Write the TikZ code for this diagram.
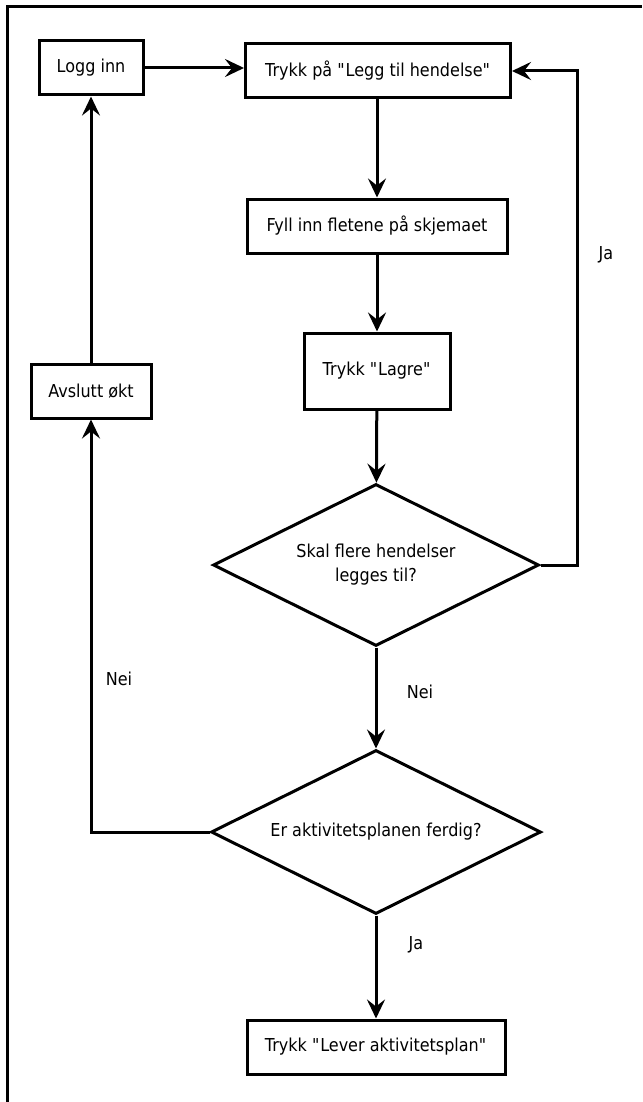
\documentclass[tikz,border=0pt]{standalone}
\usepackage{fontspec}
\setmainfont{DejaVu Sans}[FakeStretch=0.9]
\usetikzlibrary{shapes.geometric,arrows.meta,calc}

\begin{document}
\begin{tikzpicture}[x=1pt,y=-1pt,
  every node/.style={font=\fontsize{17.8}{24}\selectfont},
  procbox/.style={draw, line width=3pt, fill=white, rectangle, inner sep=0pt,
    minimum height=54pt, align=center},
  decision/.style={draw, line width=3pt, fill=white, diamond, inner sep=0pt,
    aspect=2, align=center},
  flow/.style={line width=3pt, -{Stealth[length=19pt,width=18pt,inset=7pt]}},
  lbl/.style={inner sep=0pt}
]
  % canvas and frame
  \fill[white] (0,0) rectangle (642,1102);
  \useasboundingbox (0,0) rectangle (642,1102);
  \draw[line width=3pt] (7,1102) -- (7,7) -- (642,7);

  % process steps
  \node[procbox, minimum width=104pt] (login) at (91,68) {Logg inn};
  \node[procbox, minimum width=265pt] (addevt) at (378,71)
    {Trykk på \textquotedbl Legg til hendelse\textquotedbl};
  \node[procbox, minimum width=260pt] (fill) at (377,226) {Fyll inn fletene på skjemaet};
  \node[procbox, minimum width=146pt, minimum height=76pt] (save) at (377,371)
    {Trykk \textquotedbl Lagre\textquotedbl};
  \node[decision, minimum width=326pt, minimum height=162pt] (more) at (376,565)
    {Skal flere hendelser\\legges til?};
  \node[decision, minimum width=330pt, minimum height=164pt] (done) at (376,832)
    {Er aktivitetsplanen ferdig?};
  \node[procbox, minimum width=258pt] (deliver) at (376,1047)
    {Trykk \textquotedbl Lever aktivitetsplan\textquotedbl};
  \node[procbox, minimum width=120pt] (logout) at (91,391) {Avslutt økt};

  % turning point of the loop back to the top
  \coordinate (loopcorner) at (577,565);

  % connectors
  \draw[flow] (login.east) -- (login.east -| addevt.west);
  \draw[flow] (addevt.south -| fill.north) -- (fill.north);
  \draw[flow] (fill) -- (save);
  \draw[flow] (save) -- (more);
  \draw[flow] (more.east) -- (loopcorner) |- (addevt.east);
  \draw[flow] (more) -- (done);
  \draw[flow] (done) -- (deliver);
  \draw[flow] (done.west) -| (logout.south);
  \draw[flow] (logout) -- (login);

  % branch labels
  \node[lbl] (jaloop) at (606,255) {Ja};
  \node[lbl] (neimid) at (420,692) {Nei};
  \node[lbl] (jabot) at (416,945) {Ja};
  \node[lbl] (neileft) at (119,679) {Nei};
\end{tikzpicture}
\end{document}
